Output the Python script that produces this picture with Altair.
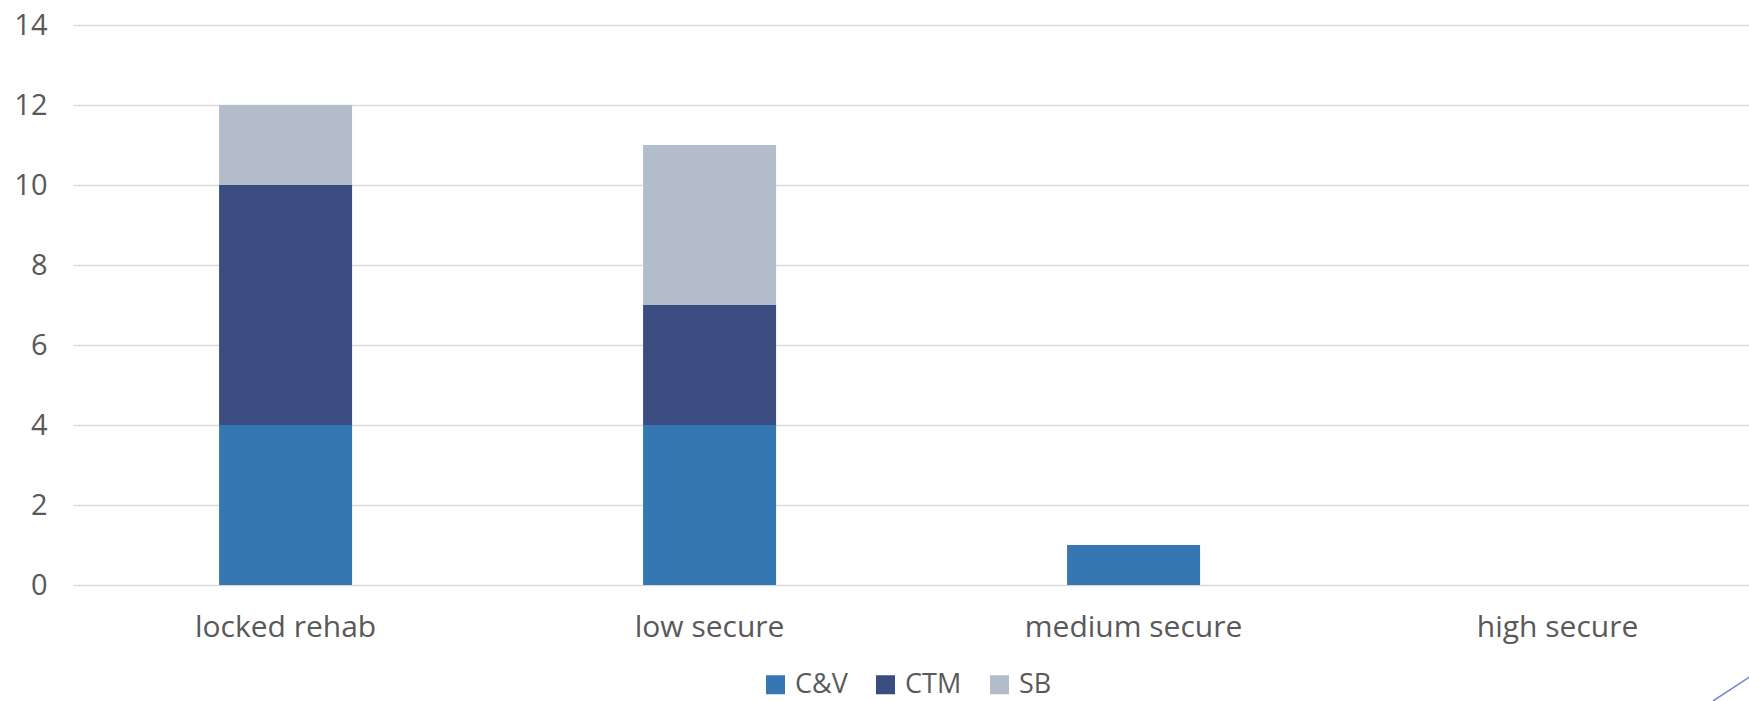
import altair as alt
import pandas as pd

categories = ["locked rehab", "low secure", "medium secure", "high secure"]
series = ["C&V", "CTM", "SB"]
cv_values = [4, 4, 1, 0]
ctm_values = [6, 3, 0, 0]
sb_values = [2, 4, 0, 0]
colors = ["#3577B3", "#3A4C80", "#B3BCCA"]
y_ticks = [0, 2, 4, 6, 8, 10, 12, 14]

rows = []
for i, c in enumerate(categories):
    for k, (s, vals) in enumerate(zip(series, [cv_values, ctm_values, sb_values])):
        if vals[i] > 0:
            rows.append({"category": c, "series": s, "value": vals[i], "order": k})
df = pd.DataFrame(rows)

FONT = "Open Sans"
TXT = "#595959"

bars = alt.Chart(df).mark_bar().encode(
    x=alt.X("category:N",
            scale=alt.Scale(domain=categories, paddingInner=0.6863, paddingOuter=0.3196, align=0.539),
            axis=alt.Axis(title=None, labelAngle=0, domain=False, ticks=False,
                          labelFontSize=30, labelColor=TXT, labelFont=FONT, labelLimit=1000,
                          labelBaseline="alphabetic", labelPadding=51, grid=False)),
    y=alt.Y("value:Q", stack="zero",
            scale=alt.Scale(domain=[0, 14], nice=False),
            axis=alt.Axis(title=None, values=y_ticks, domain=False, ticks=False,
                          labelFontSize=29, labelColor=TXT, labelFont=FONT, labelPadding=26,
                          gridColor="#D9D9D9", gridWidth=1.6)),
    color=alt.Color("series:N",
                    scale=alt.Scale(domain=series, range=colors),
                    legend=alt.Legend(title=None, orient="none", direction="horizontal",
                                      legendX=689, legendY=646,
                                      symbolType="square", symbolSize=361, symbolStrokeWidth=0,
                                      labelFontSize=27, labelColor=TXT, labelFont=FONT,
                                      labelOffset=6, columnPadding=24)),
    order=alt.Order("order:Q"),
)

deco = alt.Chart(pd.DataFrame({"a": [0]})).mark_rule(color="#7189C8", strokeWidth=1.5).encode(
    x=alt.value(1640), y=alt.value(676), x2=alt.value(1678), y2=alt.value(651)
)

chart = alt.layer(bars, deco).properties(
    width=1676, height=560,
    background="white",
    autosize=alt.AutoSizeParams(type="none"),
    padding={"left": 73, "top": 25, "right": 0, "bottom": 116},
).configure_view(stroke="transparent", strokeWidth=0)

chart.save("out.html", embed_options={"renderer": "svg", "actions": False})
